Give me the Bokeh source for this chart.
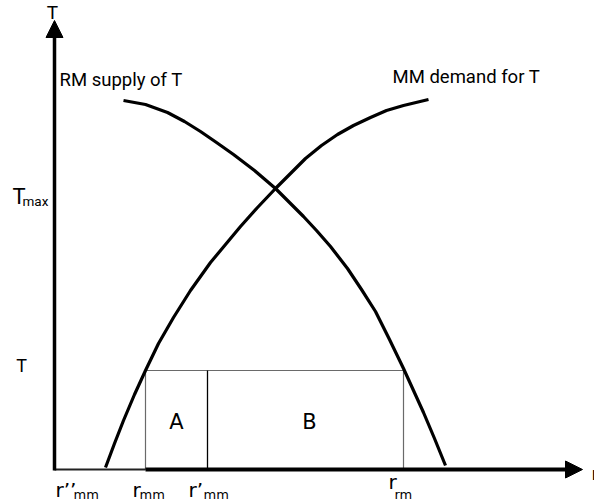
from bokeh.plotting import figure
from bokeh.models import Range1d, Arrow, NormalHead
from bokeh.core.properties import value
from bokeh.embed import file_html
from bokeh.resources import INLINE

# ---- data (r on the horizontal axis, T on the vertical axis) ----
supply_r = [69, 91, 113, 130, 146, 162, 179, 200, 221, 235, 249, 262, 276, 293,
            307, 321, 335, 349, 359, 369, 380, 391]
supply_T = [369, 365, 357, 348, 338, 327, 315, 299, 281, 267, 253, 239, 223, 201,
            180, 158, 130, 101, 79, 57, 31, 4]

demand_r = [51, 60, 69, 80, 91, 104, 119, 136, 156, 171, 186, 203, 221, 236, 251,
            267, 283, 299, 316, 332, 349, 374]
demand_T = [2, 26, 49, 75, 99, 126, 152, 179, 207, 225, 243, 262, 281, 296, 311,
            324, 335, 344, 352, 359, 364, 370]

r_mm = 91
r_mm_prime = 153
r_rm = 349
T_level = 99
T_max = 272

area_labels = ["A", "B"]
curve_labels = ["RM supply of T", "MM demand for T"]

# x-axis tick labels: main part and subscript
tick_main = ["r\u2019\u2019", "r", "r\u2019", "r"]
tick_sub = ["mm", "mm", "mm", "rm"]

# ---- figure ----
p = figure(width=594, height=503, output_backend="svg", toolbar_location=None,
           x_range=Range1d(-54, 540), y_range=Range1d(-34, 469),
           min_border=0, background_fill_color="white", border_fill_color="white")
p.axis.visible = False
p.grid.visible = False
p.outline_line_color = None

# rectangle with areas A and B
p.quad(left=[r_mm], right=[r_rm], bottom=[0], top=[T_level],
       fill_color=None, line_color="#6a6a6a", line_width=1.2)
p.segment(x0=[r_mm_prime], y0=[0], x1=[r_mm_prime], y1=[T_level],
          line_color="black", line_width=1.3)

# curves
p.line(supply_r, supply_T, line_color="black", line_width=3.2, line_join="round")
p.line(demand_r, demand_T, line_color="black", line_width=3.2, line_join="round")

# axes with arrow heads
p.segment(x0=[0], y0=[0], x1=[r_mm], y1=[0], line_color="#222222", line_width=2)
p.add_layout(Arrow(end=NormalHead(size=17, fill_color="black", line_color="black", line_width=1),
                   x_start=r_mm, y_start=0, x_end=528, y_end=0,
                   line_color="black", line_width=4))
p.add_layout(Arrow(end=NormalHead(size=17, fill_color="black", line_color="black", line_width=1),
                   x_start=0, y_start=-1, x_end=0, y_end=449,
                   line_color="black", line_width=3.5))

# axis titles
p.text(x=[-2], y=[457], text=["T"], text_font=value("Roboto"),
       text_font_size=value("19px"), text_align="center", text_baseline="alphabetic",
       text_color="black")
p.text(x=[537], y=[-4], text=["r"], text_font=value("DejaVu Sans"),
       text_font_size=value("17px"), text_align="left", text_baseline="alphabetic",
       text_color="black")

# curve labels
p.text(x=[5, 338], y=[389.5, 392.5], text=curve_labels, text_font=value("Roboto"),
       text_font_size=value("18.5px"), text_align="left", text_baseline="alphabetic",
       text_color="black")

# y tick labels
p.text(x=[-42], y=[T_max + 1], text=["T"], text_font=value("Roboto"),
       text_font_size=value("22px"), text_align="left", text_baseline="alphabetic",
       text_color="black")
p.text(x=[-32], y=[T_max - 3], text=["max"], text_font=value("Roboto"),
       text_font_size=value("13.5px"), text_align="left", text_baseline="alphabetic",
       text_color="black")
p.text(x=[-33], y=[T_level + 5], text=["T"], text_font=value("Roboto"),
       text_font_size=value("18px"), text_align="center", text_baseline="alphabetic",
       text_color="black")

# area labels
p.text(x=[(r_mm + r_mm_prime) / 2, (r_mm_prime + r_rm) / 2 + 4], y=[T_level / 2 - 2, T_level / 2 - 2],
       text=area_labels, text_font=value("DejaVu Sans"), text_font_size=value("21px"),
       text_align="center", text_baseline="middle", text_color="black")

# x tick labels
main_x = [1, 78, 134, 334]
main_y = [-20, -20, -20, -12]
sub_x = [19, 85, 149, 340]
sub_y = [-24.5, -24.5, -24.5, -24.5]
p.text(x=main_x, y=main_y, text=tick_main, text_font=value("DejaVu Sans"),
       text_font_size=value("20px"), text_align="left", text_baseline="alphabetic",
       text_color="black")
p.text(x=sub_x, y=sub_y, text=tick_sub, text_font=value("DejaVu Sans"),
       text_font_size=value("13px"), text_align="left", text_baseline="alphabetic",
       text_color="black")

open("out.html", "w").write(file_html(p, INLINE))
